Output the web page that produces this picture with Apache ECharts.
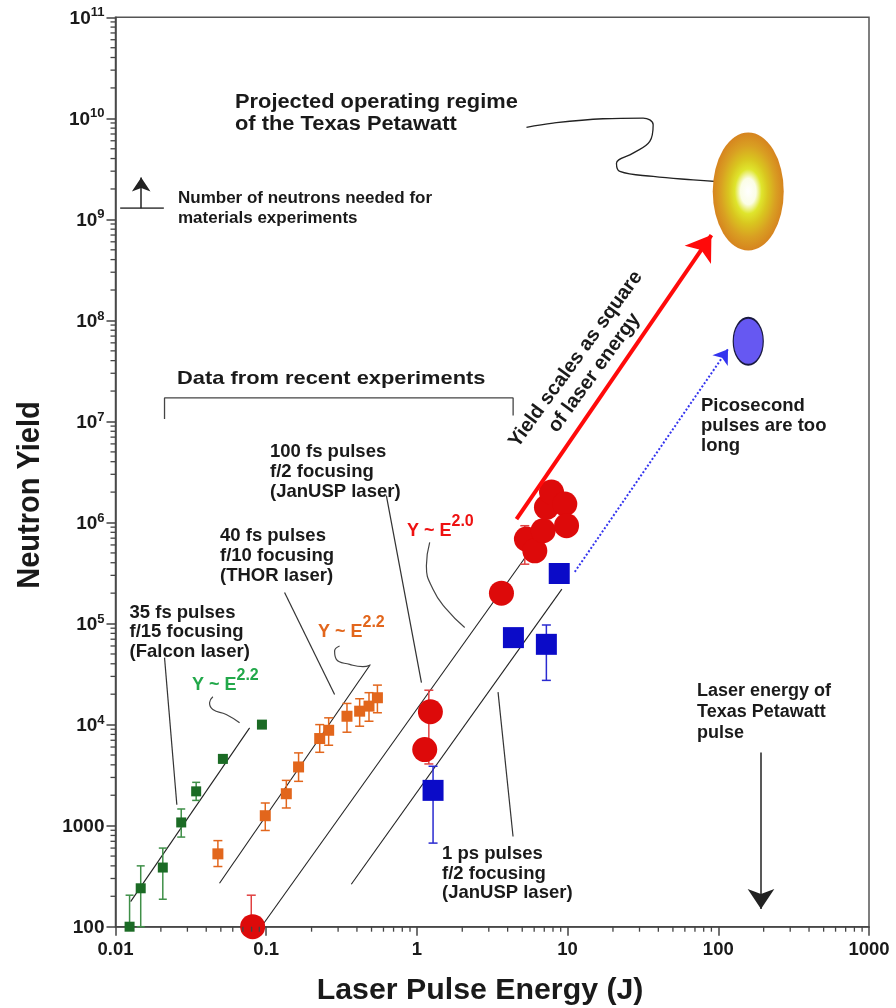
<!DOCTYPE html>
<html><head><meta charset="utf-8">
<script src="https://cdn.jsdelivr.net/npm/echarts@6/dist/echarts.min.js"></script>
<style>html,body{margin:0;padding:0;background:#fff}#c{width:896px;height:1008px}</style>
</head><body><div id="c"></div>
<script>
// ---------- axis labels ----------
const xTickLabels = ['0.01', '0.1', '1', '10', '100', '1000'];
const yTickLabels = ['100', '1000', '10^4', '10^5', '10^6', '10^7', '10^8', '10^9', '10^10', '10^11'];

// ---------- data: [laser energy (J), neutron yield] ----------
const falconPts = [[0.0124, 100], [0.0147, 240], [0.0206, 385], [0.0273, 1076], [0.0343, 2185], [0.0516, 4580], [0.0937, 10000]];
const falconErr = [[0.0124, 100, 205], [0.0147, 100, 400], [0.0206, 187, 600], [0.0273, 771, 1462], [0.0343, 1778, 2683], [0.0516, 4200, 4950]];
const thorPts = [[0.0478, 526], [0.0986, 1254], [0.136, 2070], [0.164, 3811], [0.2265, 7280], [0.2597, 8790], [0.3436, 12100], [0.417, 13580], [0.481, 15240], [0.547, 18450]];
const thorErr = [[0.0478, 394, 711], [0.0986, 896, 1676], [0.136, 1496, 2806], [0.164, 2745, 5250], [0.2265, 5320, 10000], [0.2597, 6250, 11670], [0.3436, 8410, 16200], [0.417, 9640, 18040], [0.481, 10800, 20700], [0.547, 13100, 24600]];
const jan100Pts = [[0.0813, 100], [1.127, 5660], [1.229, 13400], [3.64, 200000], [5.33, 686000], [6.06, 525000], [6.88, 830000], [7.24, 1415000], [7.82, 2000000], [9.58, 1525000], [9.84, 930000]];
const jan100Err = [[0.0796, 100, 205], [1.2, 4080, 21900], [5.2, 387000, 930000]];
const jan1psPts = [[1.28, 2235], [4.37, 72600], [7.23, 62300], [8.8, 313000]];
const jan1psErr = [[1.28, 672, 3870], [7.23, 27400, 96800]];

// fitted power-law lines
const fitFalcon = [[0.0126, 177], [0.0776, 9290]];
const fitThor = [[0.049, 269], [0.491, 39400]];
const fitJan100 = [[0.0928, 100], [5.33, 469000]];
const fitJan1ps = [[0.367, 263], [9.16, 219000]];

// projections
const texasPW = [[158, 1.89e9]];
const picoProj = [[158, 6.22e7]];

// arrows and annotation geometry (data coordinates)
const arrowRed = [[4.58, 1.08e6], [90, 7.0e8]];
const arrowBlue = [[11.16, 3.25e5], [116, 5.2e7]];
const arrowTPW = [[192, 5285], [192, 150]];
const arrowNeeded = [[0.01481, 1.29e9], [0.01481, 2.6e9]];
const neededLine = [[0.01074, 1.29e9], [0.02093, 1.29e9]];
const bracket = [[0.02115, 1.06e7], [0.02115, 1.71e7], [4.35, 1.71e7], [4.35, 1.148e7]];
const lead35 = [[0.02115, 46000], [0.02553, 1611]];
const lead40 = [[0.1324, 203200], [0.2844, 19900]];
const lead100 = [[0.627, 1.845e6], [1.072, 26000]];
const lead1ps = [[3.455, 20950], [4.345, 781]];
const squigRed = [[1.216, 636800], [1.156, 372500], [1.279, 218800], [1.570, 138700], [2.076, 91300]];
const squigOrange = [[0.3069, 59980], [0.2844, 53460], [0.2921, 44250], [0.358, 39450], [0.4385, 37440], [0.486, 38570]];
const squigGreen = [[0.04426, 18880], [0.04207, 16450], [0.04426, 14120], [0.0543, 12600], [0.0666, 10420]];
const squigTexas = [[5.335, 8.15e9], [8.01, 8.98e9], [17.2, 9.91e9], [31.7, 1.007e10], [36.96, 8.65e9], [35.1, 5.91e9], [27.2, 4.53e9], [21.1, 3.60e9], [22.2, 2.98e9], [36.96, 2.66e9], [68.1, 2.46e9], [113.5, 2.33e9]];

// minor log ticks (2..9 per decade)
const xMinor = [], yMinor = [];
for (let e = -2; e < 3; e++) for (let m = 2; m < 10; m++) xMinor.push([m * Math.pow(10, e), 100]);
for (let e = 2; e < 11; e++) for (let m = 2; m < 10; m++) yMinor.push([0.01, m * Math.pow(10, e)]);

const FONT = "'Liberation Sans', Arial, Helvetica, sans-serif";
const AX = '#444';

function lineS(data, color, width, extra) {
  return Object.assign({
    type: 'line', data: data, symbol: 'none', showSymbol: false, silent: true, animation: false,
    lineStyle: { color: color, width: width }, z: 2
  }, extra || {});
}
function errS(data, color, cap) {
  return {
    type: 'custom', data: data, encode: { x: 0, y: [1, 2] }, silent: true, clip: false, z: 3,
    renderItem: function (p, api) {
      const x = api.value(0);
      const a = api.coord([x, api.value(2)]), b = api.coord([x, api.value(1)]);
      const st = { stroke: color, lineWidth: 1.5, fill: null };
      return { type: 'group', children: [
        { type: 'line', shape: { x1: a[0], y1: a[1], x2: b[0], y2: b[1] }, style: st },
        { type: 'line', shape: { x1: a[0] - cap, y1: a[1], x2: a[0] + cap, y2: a[1] }, style: st },
        { type: 'line', shape: { x1: b[0] - cap, y1: b[1], x2: b[0] + cap, y2: b[1] }, style: st }
      ] };
    }
  };
}
function tickS(data, dir) {
  return {
    type: 'custom', data: data, encode: { x: 0, y: 1 }, silent: true, clip: false, z: 10,
    renderItem: function (p, api) {
      const c = api.coord([api.value(0), api.value(1)]);
      const shape = dir === 'x' ? { x1: c[0], y1: c[1], x2: c[0], y2: c[1] + 5 } : { x1: c[0] - 5, y1: c[1], x2: c[0], y2: c[1] };
      return { type: 'line', shape: shape, style: { stroke: AX, lineWidth: 1.3 } };
    }
  };
}
function arrowS(coords, color, width, size, type) {
  return {
    type: 'lines', coordinateSystem: 'cartesian2d', silent: true, animation: false, z: 6,
    symbol: ['none', 'arrow'], symbolSize: size,
    lineStyle: { color: color, width: width, opacity: 1, type: type || 'solid', curveness: 0 },
    data: [{ coords: coords }]
  };
}
function txt(text, x, y, size, o) {
  o = o || {};
  const al = o.align || 'left';
  return {
    type: 'text', x: x, y: y, scaleX: o.sx || 1, scaleY: o.sy || 1, rotation: o.rot || 0, z: 100, silent: true,
    style: {
      text: text, font: (o.weight || 'bold') + ' ' + size + 'px ' + FONT, fill: o.color || '#1a1a1a',
      textAlign: al, align: al, textVerticalAlign: 'middle', verticalAlign: 'middle',
      lineHeight: o.lh, rich: o.rich
    }
  };
}
function supRich(color) {
  return {
    b: { fontSize: 18, fontWeight: 'bold', fontFamily: FONT, fill: color, color: color, lineHeight: 26, verticalAlign: 'bottom' },
    s: { fontSize: 16, fontWeight: 'bold', fontFamily: FONT, fill: color, color: color, lineHeight: 16, verticalAlign: 'top' }
  };
}

const graphics = [
  txt('Projected operating regime', 235, 103, 19.5, { sx: 1.12 }),
  txt('of the Texas Petawatt', 235, 125, 19.5, { sx: 1.12 }),
  txt('Number of neutrons needed for', 178, 198, 17),
  txt('materials experiments', 178, 218, 17),
  txt('Data from recent experiments', 177, 378.5, 19, { sx: 1.15 }),
  txt('Yield scales as square\nof laser energy', 585, 366, 20, { align: 'center', rot: 54 * Math.PI / 180, lh: 23 }),
  txt('Picosecond', 701, 406, 18.5),
  txt('pulses are too', 701, 426, 18.5),
  txt('long', 701, 446, 18.5),
  txt('100 fs pulses', 270, 452, 18.5),
  txt('f/2 focusing', 270, 472, 18.5),
  txt('(JanUSP laser)', 270, 492, 18.5),
  txt('40 fs pulses', 220, 536, 18.5),
  txt('f/10 focusing', 220, 556, 18.5),
  txt('(THOR laser)', 220, 576, 18.5),
  txt('35 fs pulses', 129.5, 613, 18.5),
  txt('f/15 focusing', 129.5, 632, 18.5),
  txt('(Falcon laser)', 129.5, 652, 18.5),
  txt('1 ps pulses', 442, 854, 18.5),
  txt('f/2 focusing', 442, 874, 18.5),
  txt('(JanUSP laser)', 442, 893, 18.5),
  txt('Laser energy of', 697, 691, 18),
  txt('Texas Petawatt', 697, 712, 18),
  txt('pulse', 697, 733, 18),
  txt('{b|Y ~ E}{s|2.2}', 192, 681, 18, { rich: supRich('#22a84a') }),
  txt('{b|Y ~ E}{s|2.2}', 318, 628, 18, { rich: supRich('#e2661c') }),
  txt('{b|Y ~ E}{s|2.0}', 407, 527, 18, { rich: supRich('#ee1111') }),
  txt('Laser Pulse Energy (J)', 316.7, 991, 29, { sx: 1.045 }),
  txt('Neutron Yield', 30, 495, 29, { align: 'center', rot: Math.PI / 2, sy: 1.08 })
];

const option = {
  animation: false,
  backgroundColor: '#ffffff',
  grid: { left: 115.5, right: 27, top: 17.3, bottom: 81.3, show: true, borderColor: '#555', borderWidth: 1.5, backgroundColor: 'transparent' },
  xAxis: {
    type: 'log', logBase: 10, min: 0.01, max: 1000, splitNumber: 5,
    axisLine: { lineStyle: { color: AX, width: 1.5 } },
    axisTick: { show: true, inside: false, length: 9, lineStyle: { color: AX, width: 1.5 } },
    splitLine: { show: false },
    axisLabel: {
      margin: 14, fontSize: 18.5, fontWeight: 'bold', fontFamily: FONT, color: '#1a1a1a',
      formatter: function (v) { return xTickLabels[Math.round(Math.log10(v)) + 2]; }
    }
  },
  yAxis: {
    type: 'log', logBase: 10, min: 100, max: 1e11, splitNumber: 9,
    axisLine: { lineStyle: { color: AX, width: 1.5 } },
    axisTick: { show: true, inside: false, length: 9, lineStyle: { color: AX, width: 1.5 } },
    splitLine: { show: false },
    axisLabel: {
      margin: 11,
      formatter: function (v) {
        const lab = yTickLabels[Math.round(Math.log10(v)) - 2];
        if (lab.indexOf('^') < 0) return '{b|' + lab + '}';
        const parts = lab.split('^');
        return '{b|' + parts[0] + '}{s|' + parts[1] + '}';
      },
      rich: {
        b: { fontSize: 19, fontWeight: 'bold', fontFamily: FONT, color: '#1a1a1a', lineHeight: 22, verticalAlign: 'bottom' },
        s: { fontSize: 13, fontWeight: 'bold', fontFamily: FONT, color: '#1a1a1a', lineHeight: 13, verticalAlign: 'top' }
      }
    }
  },
  graphic: graphics,
  series: [
    tickS(xMinor, 'x'),
    tickS(yMinor, 'y'),
    lineS(fitFalcon, '#222', 1.1),
    lineS(fitThor, '#222', 1.1),
    lineS(fitJan100, '#222', 1.1),
    lineS(fitJan1ps, '#222', 1.1),
    lineS(lead35, '#333', 1.2),
    lineS(lead40, '#333', 1.2),
    lineS(lead100, '#333', 1.2),
    lineS(lead1ps, '#333', 1.2),
    lineS(bracket, '#444', 1.3),
    lineS(neededLine, '#555', 1.8),
    lineS(squigRed, '#444', 1.2, { smooth: 0.5 }),
    lineS(squigOrange, '#444', 1.2, { smooth: 0.5 }),
    lineS(squigGreen, '#444', 1.2, { smooth: 0.5 }),
    lineS(squigTexas, '#222', 1.3, { smooth: 0.4 }),
    errS(falconErr, '#3f8f48', 4),
    errS(thorErr, '#e2661c', 4.5),
    errS(jan100Err, '#e04040', 4.5),
    errS(jan1psErr, '#2a2ad0', 4.5),
    { type: 'scatter', data: falconPts, symbol: 'rect', symbolSize: 10, silent: true, z: 4, itemStyle: { color: '#1b6b25', opacity: 1 } },
    { type: 'scatter', data: thorPts, symbol: 'rect', symbolSize: 11, silent: true, z: 4, itemStyle: { color: '#e2661c', opacity: 1 } },
    { type: 'scatter', data: jan100Pts, symbol: 'circle', symbolSize: 25, silent: true, z: 4, itemStyle: { color: '#dd0a0a', opacity: 1 } },
    { type: 'scatter', data: jan1psPts, symbol: 'rect', symbolSize: 21, silent: true, z: 4, itemStyle: { color: '#0b0bc8', opacity: 1 } },
    { type: 'scatter', data: texasPW, symbol: 'circle', symbolSize: [71, 118], silent: true, z: 4,
      itemStyle: { opacity: 1, color: { type: 'radial', x: 0.5, y: 0.5, r: 0.5, colorStops: [
        { offset: 0, color: '#ffffff' }, { offset: 0.22, color: '#fbfde6' }, { offset: 0.38, color: '#dfe52c' },
        { offset: 0.55, color: '#d9c61f' }, { offset: 0.78, color: '#d99f22' }, { offset: 1, color: '#d6841f' } ] } } },
    { type: 'scatter', data: picoProj, symbol: 'circle', symbolSize: [30, 47], silent: true, z: 4,
      itemStyle: { color: '#6658f2', borderColor: '#1a1a40', borderWidth: 1.5, opacity: 1 } },
    arrowS(arrowRed, '#ff0a0a', 4, [16, 24]),
    arrowS(arrowBlue, '#3434ee', 2, [10, 14], 'dotted'),
    arrowS(arrowTPW, '#222', 1.5, [13, 20]),
    arrowS(arrowNeeded, '#222', 1.5, [9, 14])
  ]
};
const chart = echarts.init(document.getElementById('c'));
chart.setOption(option);
</script></body></html>
